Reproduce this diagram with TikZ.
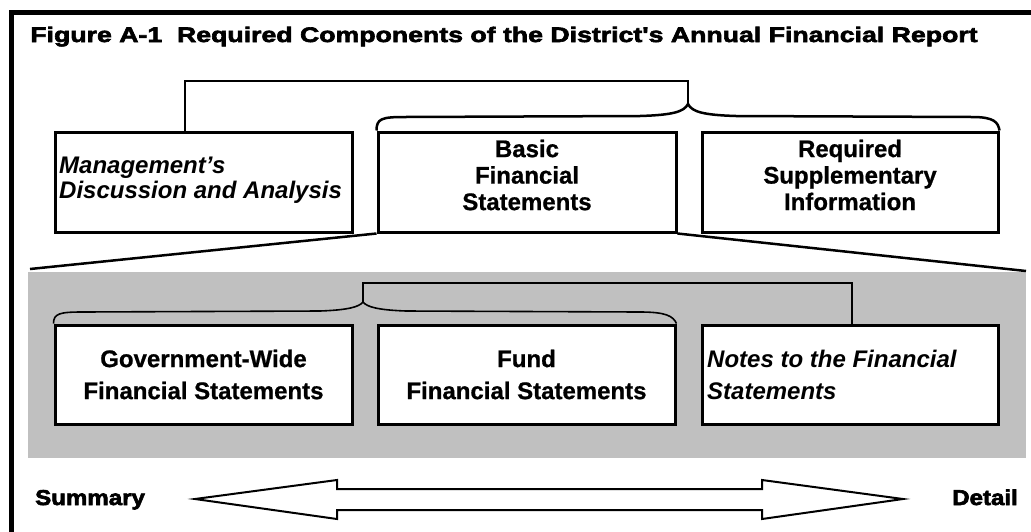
\documentclass[tikz,border=0pt]{standalone}
\usepackage{fontspec}
\setmainfont{Liberation Sans}[BoldFeatures={FakeBold=0.8}]
\newfontfamily\titlefont{Liberation Sans}[BoldFeatures={FakeBold=3,FakeStretch=1.27}]
\newfontfamily\endfont{Liberation Sans}[BoldFeatures={FakeBold=3,FakeStretch=1.12}]
\definecolor{panelgray}{HTML}{C0C0C0}
\tikzset{
  box/.style={draw=black, line width=3pt, fill=white, inner sep=0pt},
  boxtext/.style={inner sep=0pt, font=\fontsize{24}{26.5}\selectfont\bfseries},
  lowtext/.style={inner sep=0pt, font=\fontsize{24}{32}\selectfont\bfseries},
  conn/.style={draw=black, line width=2.5pt},
  thinconn/.style={draw=black, line width=1.6pt},
  endlabel/.style={inner sep=0pt, font=\endfont\fontsize{21.5}{24}\selectfont\bfseries},
}
\begin{document}
\begin{tikzpicture}[x=1pt,y=-1pt]
\clip (0,0) rectangle (1031,531);
\useasboundingbox (0,0) rectangle (1031,531);
\fill[white] (0,0) rectangle (1031,531);
% frame
\draw[line width=5pt] (11.5,600) -- (11.5,12.5) -- (1100,12.5);
% title
\node[inner sep=0pt, anchor=base, font=\titlefont\fontsize{21}{22}\selectfont\bfseries] (title) at (504,42)
  {Figure A-1\ \ Required Components of the District's Annual Financial Report};
% gray panel
\fill[panelgray] (28,272) rectangle (1026,458);
% top boxes
\node[box, minimum width=297pt, minimum height=100pt] (mda) at (203.5,182) {};
\node[box, minimum width=298pt, minimum height=100pt] (bfs) at (527,182) {};
\node[box, minimum width=296pt, minimum height=100pt] (rsi) at (850,182) {};
\node[boxtext, anchor=north west, align=left, font=\fontsize{24}{25}\selectfont\bfseries\itshape] (mdat) at (59,156.5)
  {Management's\\Discussion and Analysis};
\node[boxtext, anchor=north, align=center] (bfst) at (527,139.5) {Basic\\Financial\\Statements};
\node[boxtext, anchor=north, align=center] (rsit) at (850,139.5) {Required\\Supplementary\\Information};
% lower boxes
\node[box, minimum width=297pt, minimum height=99pt] (gw) at (203.5,374.5) {};
\node[box, minimum width=297pt, minimum height=99pt] (fund) at (526.5,374.5) {};
\node[box, minimum width=296pt, minimum height=99pt] (notes) at (850,374.5) {};
\node[lowtext, anchor=north, align=center] (gwt) at (203.5,349.5) {Government-Wide\\Financial Statements};
\node[lowtext, anchor=north, align=center] (fundt) at (526.5,349.5) {Fund\\Financial Statements};
\node[lowtext, anchor=north west, align=left, font=\fontsize{24}{32}\selectfont\bfseries\itshape] (notest) at (707,349.5)
  {Notes to the Financial\\Statements};
% coordinates
\coordinate (ttop) at (688,81);
\coordinate (ttip) at (688,104);
\coordinate (ltop) at (363,283);
\coordinate (ltip) at (363,302);
\coordinate (fl) at (30,269);
\coordinate (fr) at (1026,271);
% top bracket
\draw[conn] ([xshift=-18.5pt]mda.north) |- (ttop) -- (ttip);
\draw[conn] (bfs.north west) .. controls +(0,-12) and (382,117) .. (405,117)
  -- (640,116) .. controls (672,115) and (684,112) .. (ttip)
  .. controls (692,112) and (704,115) .. (736,116)
  -- (972,117) .. controls (994,117) and (998,122) .. (rsi.north east);
% funnel
\draw[conn] (bfs.south west) -- (fl);
\draw[conn] (bfs.south east) -- (fr);
% lower bracket
\draw[thinconn] ([xshift=2pt]notes.north) |- (ltop) -- (ltip);
\draw[thinconn] (gw.north west) .. controls +(0,-10) and (60,312) .. (82,312)
  -- (320,311) .. controls (348,310) and (359,307) .. (ltip)
  .. controls (367,307) and (378,310) .. (406,311)
  -- (640,312) .. controls (666,312) and (673,316) .. (fund.north east);
% double arrow
\draw[line width=2pt, fill=white, line join=miter]
  (195,499) -- (337,480) -- (337,489) -- (762,489) -- (762,480) -- (903,499)
  -- (762,519) -- (762,510) -- (337,510) -- (337,519) -- cycle;
\node[endlabel, anchor=base west] (summary) at (35,505) {Summary};
\node[endlabel, anchor=base east] (detail) at (1018,505) {Detail};
\end{tikzpicture}
\end{document}
